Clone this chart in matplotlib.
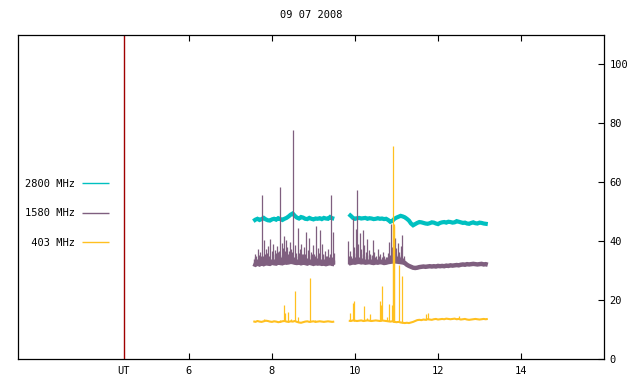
import numpy as np
import matplotlib
matplotlib.use("Agg")
import matplotlib.pyplot as plt

plt.rcParams['font.family'] = ['DejaVu Sans Mono', 'DejaVu Sans']

title = "09 07 2008"
labels = ["2800 MHz", "1580 MHz", " 403 MHz"]
colors = ["#00c0c0", "#7f5f7f", "#ffc020"]
ut_time = 4.43
xticks = [6, 8, 10, 12, 14]
yticks = [0, 20, 40, 60, 80, 100]

# sample times of the two observing segments (UT hours)
t_seg1 = np.round(np.arange(7.55, 9.501, 0.05), 2)
t_seg2 = np.round(np.arange(9.85, 13.201, 0.05), 2)

# baselines
f2800_seg1 = [46.8, 47.3, 47.6, 47.2, 47.5, 47.9, 47.4, 47.1, 47.0, 47.4,
              47.6, 47.3, 47.8, 47.5, 47.2, 47.6, 47.9, 48.4, 49.0, 49.4,
              48.6, 48.0, 47.7, 48.2, 48.0, 47.6, 47.5, 47.9, 47.6, 47.4,
              47.7, 47.6, 47.8, 47.5, 47.9, 47.7, 47.6, 48.2, 47.8, 47.6]
f2800_seg2 = [49.2, 48.6, 47.9, 47.6,
              47.8, 47.9, 47.7, 47.8, 47.9, 47.6, 47.8, 47.7, 47.5, 47.6,
              47.8, 47.6, 47.7, 47.5, 47.6, 47.2, 46.6, 46.9, 47.6, 48.0,
              48.3, 48.6, 48.4, 48.1, 47.6, 47.0, 46.0, 45.4, 45.8, 46.2,
              46.5, 46.4, 46.2, 46.0, 45.9, 46.1, 46.4, 46.3, 46.0, 45.8,
              46.2, 46.4, 46.5, 46.3, 46.6, 46.5, 46.3, 46.4, 46.8, 46.6,
              46.4, 46.2, 46.3, 46.0, 45.9, 46.2, 46.4, 46.1, 46.0, 46.3,
              46.2, 46.0, 45.9, 45.8]

f1580_seg1 = [32.3, 32.0, 32.4, 32.1, 32.5, 32.2, 32.6, 32.4, 32.3, 32.7,
              32.5, 32.4, 32.8, 32.6, 32.5, 32.9, 32.7, 32.8, 33.0, 32.9,
              32.7, 32.6, 32.8, 32.5, 32.7, 32.6, 32.4, 32.7, 32.5, 32.3,
              32.6, 32.4, 32.5, 32.3, 32.4, 32.2, 32.4, 32.6, 32.3, 32.2]
f1580_seg2 = [32.4, 32.6, 32.8, 32.7,
              32.9, 33.0, 32.8, 32.9, 32.7, 32.8, 32.9, 32.7, 32.6, 32.8,
              32.7, 32.9, 32.8, 32.6, 32.7, 32.9, 33.0, 33.1, 33.2, 33.1,
              33.0, 32.9, 32.8, 32.6, 32.0, 31.6, 31.3, 31.0, 30.9, 31.0,
              31.2, 31.3, 31.4, 31.3, 31.4, 31.5, 31.4, 31.5, 31.4, 31.6,
              31.5, 31.6, 31.5, 31.7, 31.6, 31.8, 31.7, 31.8, 31.9, 31.8,
              32.0, 32.1, 32.0, 32.2, 32.1, 32.2, 32.3, 32.2, 32.1, 32.2,
              32.3, 32.1, 32.2, 32.0]

f403_seg1 = [12.8, 12.6, 12.9, 12.7, 12.6, 12.8, 13.0, 12.9, 12.7, 12.6,
             12.8, 12.7, 12.5, 12.6, 12.8, 12.9, 12.7, 12.6, 12.8, 12.7,
             12.9, 12.6, 12.4, 12.3, 12.5, 12.7, 12.8, 12.6, 12.7, 12.8,
             12.6, 12.7, 12.8, 12.7, 12.6, 12.7, 12.8, 12.7, 12.6, 12.7]
f403_seg2 = [13.0, 12.9, 13.1, 13.0,
             12.9, 13.0, 13.1, 12.9, 13.0, 13.1, 13.0, 12.9, 13.0, 13.1,
             13.0, 12.9, 13.1, 13.0, 12.9, 12.8, 12.7, 12.8, 12.6, 12.5,
             12.6, 12.4, 12.3, 12.2, 12.3, 12.2, 12.4, 12.6, 12.9, 13.2,
             13.3, 13.2, 13.4, 13.3, 13.5, 13.4, 13.3, 13.5, 13.6, 13.4,
             13.5, 13.6, 13.5, 13.7, 13.6, 13.5, 13.6, 13.7, 13.5, 13.6,
             13.4, 13.5, 13.6, 13.4, 13.3, 13.4, 13.5, 13.6, 13.5, 13.4,
             13.5, 13.6, 13.5, 13.6]

# bursts: (time, peak value)
f1580_spike_t = [7.58, 7.62, 7.66, 7.70, 7.73, 7.76, 7.81, 7.85, 7.88, 7.91,
                 7.95, 8.00, 8.03, 8.07, 8.11, 8.14, 8.19, 8.23, 8.26, 8.29,
                 8.33, 8.36, 8.40, 8.44, 8.47, 8.51, 8.56, 8.59, 8.63, 8.67,
                 8.70, 8.74, 8.78, 8.82, 8.86, 8.90, 8.94, 8.98, 9.02, 9.06,
                 9.10, 9.13, 9.16, 9.20, 9.24, 9.28, 9.32, 9.36, 9.39, 9.42,
                 9.44, 9.47, 9.50,
                 9.83, 9.87, 9.90, 9.95, 9.98, 10.02, 10.05, 10.08, 10.12, 10.15,
                 10.19, 10.22, 10.26, 10.30, 10.33, 10.37, 10.43, 10.47, 10.51, 10.56,
                 10.60, 10.64, 10.67, 10.71, 10.75, 10.79, 10.82, 10.87, 10.90, 10.93,
                 10.96, 10.99, 11.03, 11.06, 11.10, 11.13, 11.17]
f1580_spike_v = [35.5, 34.8, 37.3, 36.2, 35.0, 55.6, 40.3, 37.5, 36.0, 38.4,
                 40.7, 36.8, 39.0, 37.0, 38.5, 36.2, 58.3, 39.5, 37.8, 41.7,
                 40.5, 38.0, 36.5, 39.8, 37.2, 77.6, 38.6, 36.0, 44.4, 37.4,
                 39.2, 35.8, 38.0, 43.0, 37.0, 41.0, 36.4, 38.8, 35.6, 45.0,
                 37.6, 36.0, 43.7, 39.0, 35.4, 36.8, 34.8, 37.2, 35.5, 55.6,
                 34.6, 43.0, 36.0,
                 40.0, 36.5, 35.0, 47.8, 38.0, 44.0, 57.3, 39.0, 42.7, 37.5,
                 43.7, 38.6, 36.4, 40.8, 37.0, 35.8, 40.3, 36.2, 34.8, 37.5,
                 35.6, 34.6, 36.3, 35.0, 34.5, 36.0, 39.7, 46.0, 38.0, 36.5,
                 41.0, 37.8, 39.5, 36.2, 38.4, 42.0, 35.0]

# small flickers that fill the noisy 1580 MHz band
f1580_fine_t = [7.56, 7.60, 7.64, 7.68, 7.71, 7.75, 7.78, 7.83, 7.87, 7.93,
                7.97, 8.02, 8.05, 8.09, 8.13, 8.17, 8.21, 8.25, 8.28, 8.31,
                8.35, 8.38, 8.42, 8.46, 8.49, 8.53, 8.58, 8.61, 8.65, 8.69,
                8.72, 8.76, 8.80, 8.84, 8.88, 8.92, 8.96, 9.00, 9.04, 9.08,
                9.12, 9.18, 9.22, 9.26, 9.30, 9.34, 9.38, 9.41, 9.46, 9.49,
                9.85, 9.92, 9.97, 10.00, 10.04, 10.10, 10.14, 10.17, 10.21, 10.24,
                10.28, 10.32, 10.35, 10.39, 10.41, 10.45, 10.49, 10.53, 10.58, 10.62,
                10.69, 10.73, 10.77, 10.84, 10.89, 10.92, 10.95, 10.98, 11.01, 11.05,
                11.08, 11.12, 11.15, 11.19]
f1580_fine_v = [33.8, 34.5, 33.9, 35.2, 34.0, 33.6, 34.8, 35.8, 34.2, 35.0,
                33.9, 35.5, 34.1, 35.9, 34.4, 36.5, 34.6, 35.2, 34.0, 36.8,
                34.8, 35.6, 34.2, 35.0, 36.2, 34.5, 35.1, 34.0, 36.0, 34.7,
                35.5, 34.1, 35.8, 34.4, 35.2, 34.0, 35.7, 34.3, 35.0, 34.2,
                35.4, 34.0, 35.6, 34.1, 35.0, 33.9, 34.6, 33.8, 34.4, 33.7,
                35.0, 34.2, 36.0, 34.5, 35.8, 34.6, 35.5, 34.2, 35.0, 34.0,
                35.3, 34.1, 34.8, 34.0, 35.2, 33.9, 34.6, 34.0, 34.8, 33.9,
                34.3, 33.8, 34.5, 35.2, 34.6, 35.5, 34.8, 35.6, 34.9, 35.4,
                34.6, 35.1, 34.4, 33.8]

f403_spike_t = [7.80, 8.20, 8.29, 8.31, 8.39, 8.45, 8.55, 8.63, 8.92, 9.04,
                9.88, 9.95, 9.98, 10.22, 10.29, 10.36, 10.60, 10.63, 10.65, 10.77,
                10.82, 10.89, 10.915, 10.925, 10.935, 10.945, 11.06, 11.13, 11.71, 11.76,
                12.50]
f403_spike_v = [13.5, 13.4, 18.3, 15.6, 15.9, 13.6, 23.0, 14.2, 27.5, 13.2,
                15.6, 19.0, 19.7, 18.0, 13.9, 15.3, 19.7, 18.3, 24.7, 14.2,
                18.6, 18.3, 46.0, 72.2, 46.0, 45.0, 31.9, 28.1, 15.3, 15.6,
                14.6]

fig = plt.figure(figsize=(6.4, 3.84), dpi=100)
ax = fig.add_axes([18 / 640, 25 / 384, 586 / 640, 324 / 384])

segments = [(t_seg1, f2800_seg1, f1580_seg1, f403_seg1),
            (t_seg2, f2800_seg2, f1580_seg2, f403_seg2)]

for i, (t, a, b, c) in enumerate(segments):
    ax.plot(t, a, color=colors[0], lw=3.0, zorder=2, solid_capstyle='butt',
            solid_joinstyle='miter', label=labels[0] if i == 0 else None)
    ax.plot(t, b, color=colors[1], lw=3.2, zorder=3, solid_capstyle='butt',
            solid_joinstyle='miter', label=labels[1] if i == 0 else None)
    ax.plot(t, c, color=colors[2], lw=1.5, zorder=4, solid_capstyle='butt',
            label=labels[2] if i == 0 else None)

# bursts rise from the baseline of their own channel
t_all = np.concatenate([t_seg1, t_seg2])
base1580 = f1580_seg1 + f1580_seg2
base403 = f403_seg1 + f403_seg2
ax.vlines(f1580_fine_t, np.interp(f1580_fine_t, t_all, base1580), f1580_fine_v,
          color=colors[1], lw=1.0, zorder=3)
ax.vlines(f1580_spike_t, np.interp(f1580_spike_t, t_all, base1580), f1580_spike_v,
          color=colors[1], lw=0.9, zorder=3)
ax.vlines(f403_spike_t, np.interp(f403_spike_t, t_all, base403), f403_spike_v,
          color=colors[2], lw=0.9, zorder=4)

ax.axvline(ut_time, color="#a00000", lw=1.0, zorder=1)

ax.set_xlim(1.88, 16.0)
ax.set_ylim(0, 110)
ax.set_xticks([ut_time] + xticks)
ax.set_xticklabels(["UT"] + [str(v) for v in xticks])
ax.tick_params(axis='x', direction='in', top=True, bottom=True, length=4,
               width=0.8, labelsize=7.5, pad=5)
t0 = ax.xaxis.get_major_ticks()[0]
t0.tick1line.set_visible(False)
t0.tick2line.set_visible(False)

ax.yaxis.tick_right()
ax.set_yticks(yticks)
ax.tick_params(axis='y', direction='in', left=False, right=True, length=4,
               width=0.8, labelsize=7.5, pad=4)
for s in ax.spines.values():
    s.set_linewidth(0.9)

ax.set_title(title, fontsize=7.5, pad=12)

leg = ax.legend(loc='upper right', bbox_to_anchor=(109 / 640, 1 - 179 / 384),
                bbox_transform=fig.transFigure, frameon=False, markerfirst=False,
                fontsize=7.5, handlelength=2.6, handletextpad=0.7,
                labelspacing=1.85, borderpad=0, borderaxespad=0)
for line in leg.get_lines():
    line.set_linewidth(1.0)

fig.savefig("out.png", dpi=100)
